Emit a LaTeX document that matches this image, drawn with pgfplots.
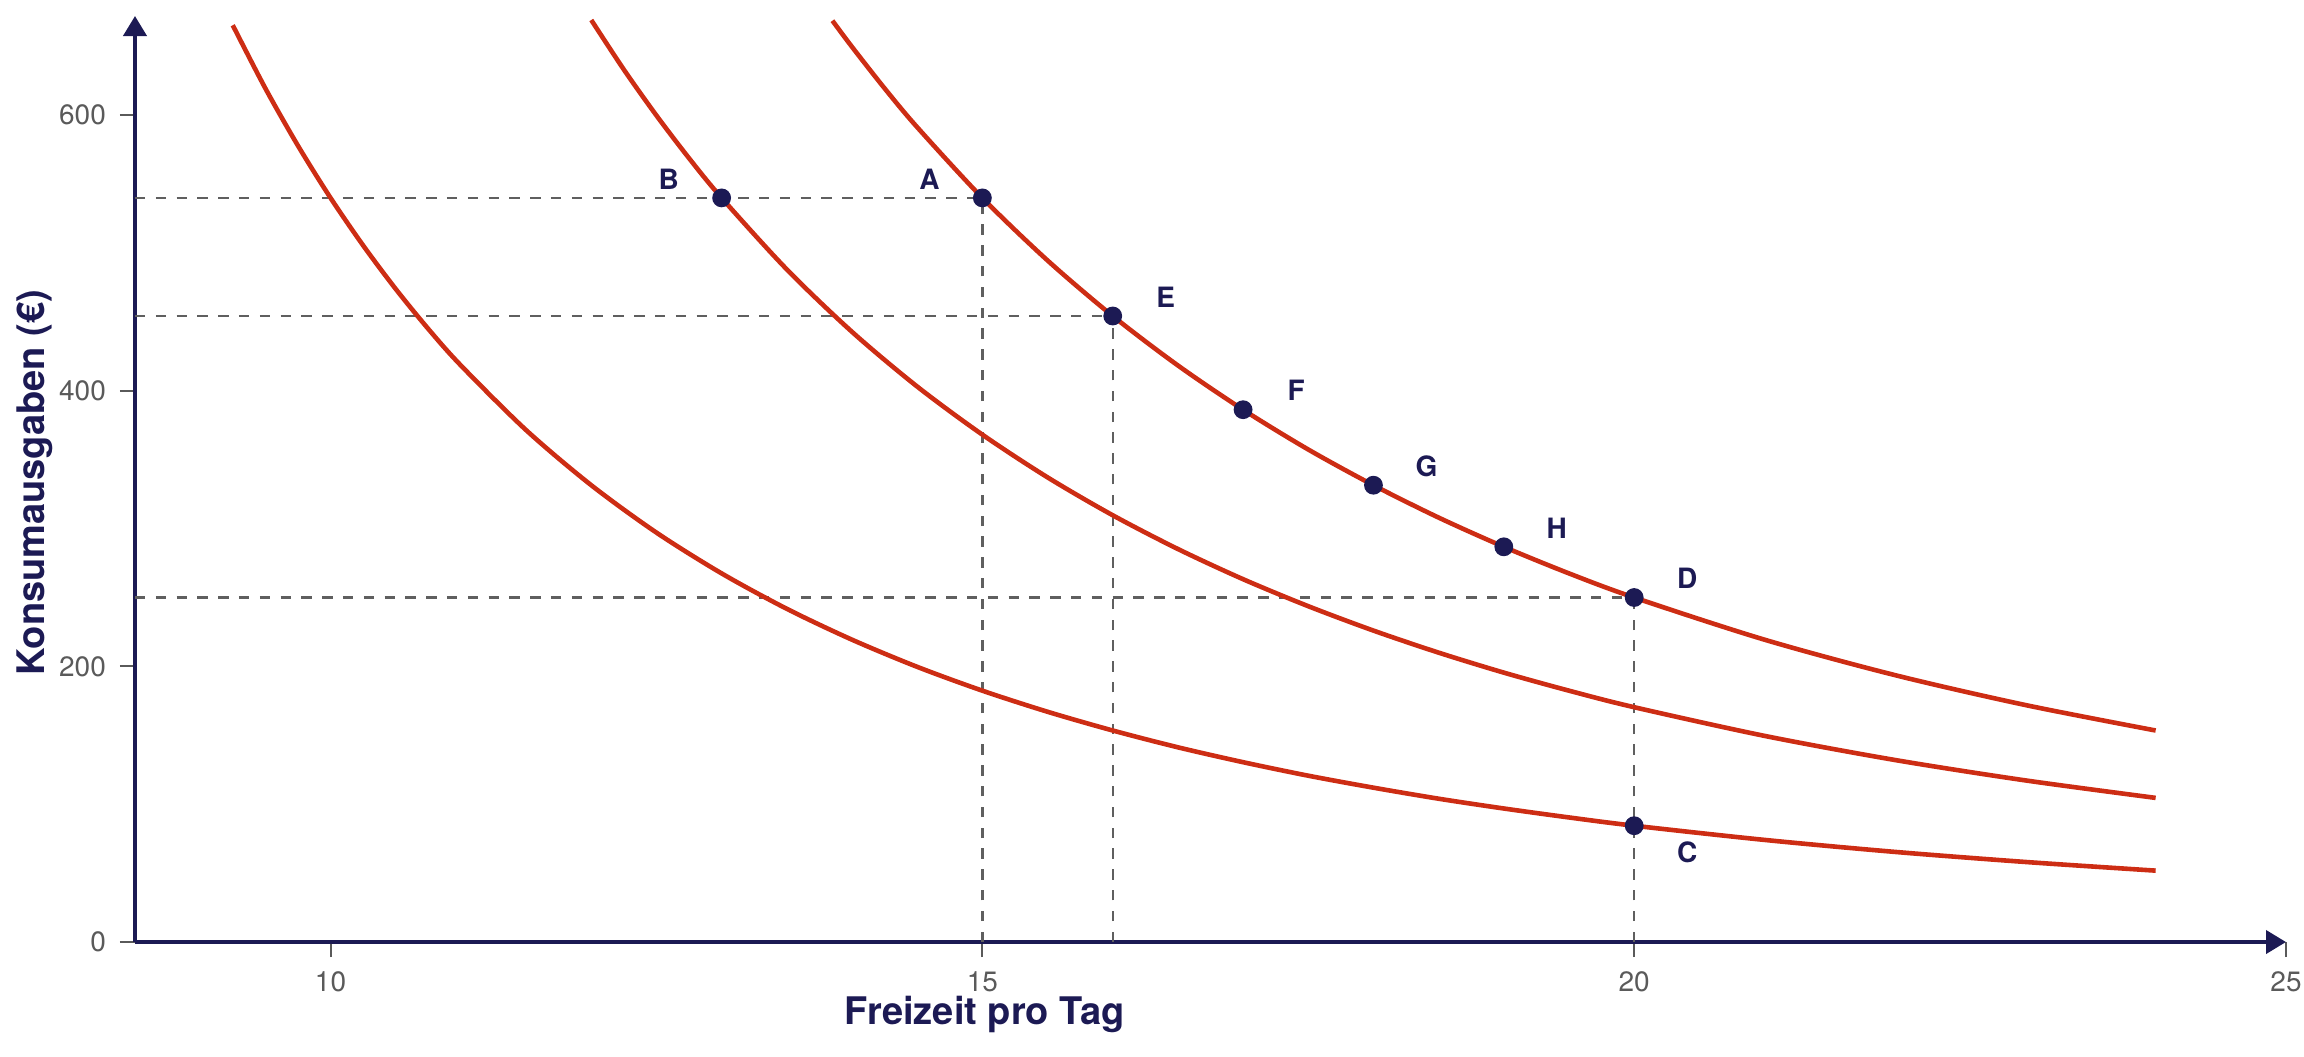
\documentclass[border=0pt]{standalone}
\usepackage{pgfplots}
\pgfplotsset{compat=1.18}
\usepackage{fontspec}
\setmainfont{TeX Gyre Heros}
\usetikzlibrary{arrows.meta}
\definecolor{navy}{RGB}{28,26,84}
\definecolor{curvered}{RGB}{205,45,20}
\definecolor{dashgray}{RGB}{95,95,95}
\definecolor{tickgray}{RGB}{90,90,90}
\begin{document}
\begin{tikzpicture}
\begin{axis}[name=ax,
 scale only axis, width=537.75pt, height=231.5pt,
 xmin=8.5, xmax=25, ymin=0, ymax=672,
 axis lines=left,
 axis line style={navy, line width=1pt, -{Triangle[width=5.75pt,length=5pt]}},
 xtick={10,15,20,25}, ytick={0,200,400,600},
 tick align=outside, major tick length=3.75pt,
 tick style={tickgray, line width=0.5pt},
 ticklabel style={font=\fontsize{7}{8}\selectfont, text=tickgray},
 /pgf/number format/assume math mode=true,
 xlabel={Freizeit pro Tag}, ylabel={Konsumausgaben (€)},
 label style={font=\fontsize{9.5}{11}\selectfont\bfseries, text=navy},
 xlabel style={at={(axis description cs:0.395,-0.0778)}, anchor=center},
 ylabel style={at={(axis description cs:-0.0465,0.496)}, anchor=center},
 clip=false,
]
% dashed guide lines
\addplot[dashgray, line width=0.6pt, dash pattern=on 2.6pt off 2.6pt, forget plot] coordinates {(8.5,540) (15,540)};
\addplot[dashgray, line width=0.6pt, dash pattern=on 2.6pt off 2.6pt, forget plot] coordinates {(15,0) (15,540)};
\addplot[dashgray, line width=0.6pt, dash pattern=on 2.6pt off 2.6pt, forget plot] coordinates {(8.5,454.3) (16,454.3)};
\addplot[dashgray, line width=0.6pt, dash pattern=on 2.6pt off 2.6pt, forget plot] coordinates {(16,0) (16,454.3)};
\addplot[dashgray, line width=0.6pt, dash pattern=on 2.6pt off 2.6pt, forget plot] coordinates {(8.5,250) (20,250)};
\addplot[dashgray, line width=0.6pt, dash pattern=on 2.6pt off 2.6pt, forget plot] coordinates {(20,0) (20,250)};
% points
\addplot[only marks, mark=*, mark size=2.15pt, navy, forget plot] coordinates {(15,540) (13,540) (20,84.4) (20,250) (16,454.3) (17,386.3) (18,331.5) (19,286.8)};
% indifference curves
\addplot[curvered, line width=1.15pt, smooth, forget plot] coordinates {
(9.25,665.3) (9.5,619.5) (9.75,577.9) (10,540) (10.25,505.5) (10.5,473.9) (10.75,444.9) (11,418.4) (11.5,371.5) (12,331.5) (12.5,297.1) (13,267.5) (13.5,241.8) (14,219.4) (14.5,199.7) (15,182.4) (15.5,167.1) (16,153.5) (16.5,141.3) (17,130.5) (17.5,120.7) (18,112.0) (18.5,104.0) (19,96.9) (19.5,90.4) (20,84.4) (21,74.1) (22,65.4) (23,58.1) (24,51.8)};
\addplot[curvered, line width=1.15pt, smooth, forget plot] coordinates {
(12,669.1) (12.25,633.1) (12.5,599.8) (12.75,568.8) (13,540) (13.5,488.1) (14,442.8) (14.5,403.1) (15,368.2) (15.5,337.2) (16,309.7) (16.5,285.2) (17,263.3) (17.5,243.7) (18,226.0) (18.5,210.0) (19,195.5) (19.5,182.4) (20,170.4) (21,149.6) (22,132.1) (23,117.3) (24,104.6)};
\addplot[curvered, line width=1.15pt, smooth, forget plot] coordinates {
(13.85,668.6) (14,649.6) (14.25,619.5) (14.5,591.3) (15,540.0) (15.5,494.6) (16,454.3) (16.5,418.4) (17,386.3) (17.5,357.4) (18,331.5) (18.5,308.0) (19,286.8) (19.5,267.5) (20,250) (21,219.4) (22,193.7) (23,172.0) (24,153.5)};
% point labels
\tikzset{ptlab/.style={font=\fontsize{7}{8}\selectfont\bfseries, text=navy}}
\node[ptlab, xshift=-13.25pt, yshift=4.75pt] at (axis cs:15,540) {A};
\node[ptlab, xshift=-13.25pt, yshift=4.75pt] at (axis cs:13,540) {B};
\node[ptlab, xshift=13.25pt, yshift=-6.75pt] at (axis cs:20,84.4) {C};
\node[ptlab, xshift=13.25pt, yshift=4.75pt] at (axis cs:20,250) {D};
\node[ptlab, xshift=13.25pt, yshift=4.75pt] at (axis cs:16,454.3) {E};
\node[ptlab, xshift=13.25pt, yshift=4.75pt] at (axis cs:17,386.3) {F};
\node[ptlab, xshift=13.25pt, yshift=4.75pt] at (axis cs:18,331.5) {G};
\node[ptlab, xshift=13.25pt, yshift=4.75pt] at (axis cs:19,286.8) {H};
\end{axis}
\pgfresetboundingbox
\path ([shift={(-33.75pt,-28.5pt)}]ax.south west) rectangle ([shift={(4.5pt,4pt)}]ax.north east);
\end{tikzpicture}
\end{document}
